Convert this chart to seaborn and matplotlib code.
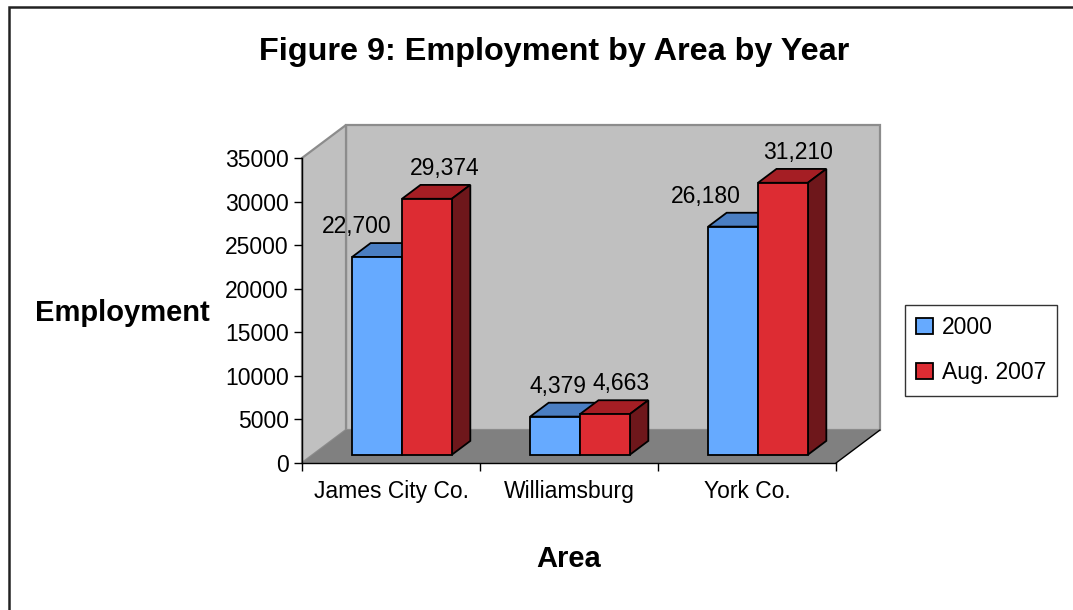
import matplotlib
matplotlib.use("Agg")
import matplotlib.pyplot as plt
from matplotlib.patches import Polygon, Rectangle
import numpy as np
import pandas as pd
import seaborn as sns

# Employment by area, two survey points
areas = ["James City Co.", "Williamsburg", "York Co."]
series = ["2000", "Aug. 2007"]
emp_2000 = [22700, 4379, 26180]
emp_2007 = [29374, 4663, 31210]
y_ticks = [0, 5000, 10000, 15000, 20000, 25000, 30000, 35000]

df = pd.DataFrame({
    "Area": areas * 2,
    "Series": [series[0]] * 3 + [series[1]] * 3,
    "Employment": emp_2000 + emp_2007,
})

sns.set_theme(style="white")
plt.rcParams["font.family"] = ["Liberation Sans", "DejaVu Sans"]
plt.rcParams.update({
    "text.color": "black",
    "axes.labelcolor": "black",
    "xtick.color": "black",
    "ytick.color": "black",
})

W, H = 1073, 610
fig = plt.figure(figsize=(W / 100, H / 100), dpi=100)
fig.patch.set_facecolor("white")

# plot area in pixel terms (front plane of the 3D box)
px_left, px_right, px_bottom, px_top = 302, 836, 463, 158
ax = fig.add_axes([px_left / W, 1 - px_bottom / H,
                   (px_right - px_left) / W, (px_bottom - px_top) / H])
ax.set_facecolor("none")

YMAX = 35000
ax.set_xlim(-0.5, 2.5)
ax.set_ylim(0, YMAX)

# depth of the box, expressed in data units
depth_px_x, depth_px_y = 44, 33
DX = depth_px_x / (px_right - px_left) * 3
DY = depth_px_y / (px_bottom - px_top) * YMAX
F0 = 0.25   # bar front position as fraction of depth
BD = 0.42   # bar depth as fraction of depth

wall_fill = "#C0C0C0"
wall_edge = "#8C8C8C"
floor_fill = "#808080"

# back wall
ax.add_patch(Polygon([(-0.5 + DX, DY), (2.5 + DX, DY), (2.5 + DX, YMAX + DY),
                      (-0.5 + DX, YMAX + DY)], closed=True, facecolor=wall_fill,
                     edgecolor=wall_edge, lw=1.6, zorder=0, clip_on=False))
# side wall
ax.add_patch(Polygon([(-0.5, 0), (-0.5 + DX, DY), (-0.5 + DX, YMAX + DY),
                      (-0.5, YMAX)], closed=True, facecolor=wall_fill,
                     edgecolor=wall_edge, lw=1.6, zorder=0.5, clip_on=False))
# floor
ax.add_patch(Polygon([(-0.5, 0), (2.5, 0), (2.5 + DX, DY), (-0.5 + DX, DY)],
                     closed=True, facecolor=floor_fill, edgecolor="none",
                     zorder=0.6, clip_on=False))
ax.plot([2.5, 2.5 + DX], [0, DY], color="black", lw=1.0, zorder=0.7,
        clip_on=False)

front_colors = {"2000": "#66AAFF", "Aug. 2007": "#DD2C33"}
top_colors = {"2000": "#4A7EC2", "Aug. 2007": "#A51E24"}
side_colors = {"2000": "#3C63A0", "Aug. 2007": "#6E171B"}

sns.barplot(data=df, x="Area", y="Employment", hue="Series", order=areas,
            hue_order=series, palette=front_colors, saturation=1, width=0.56,
            edgecolor="black", linewidth=1.3, ax=ax, zorder=3)

# horizontal label nudges in pixels (per area, per series)
label_nudge = [(-30, 9), (-6, 7), (-37, 6)]

for s_idx, (cont, s) in enumerate(zip(ax.containers, series)):
    for a_idx, rect in enumerate(cont):
        x0, w, h = rect.get_x(), rect.get_width(), rect.get_height()
        xs, ys = x0 + F0 * DX, F0 * DY
        rect.set_x(xs)
        rect.set_y(ys)
        rect.set_clip_on(False)
        bx, by = BD * DX, BD * DY
        top = Polygon([(xs, ys + h), (xs + w, ys + h), (xs + w + bx, ys + h + by),
                       (xs + bx, ys + h + by)], closed=True,
                      facecolor=top_colors[s], edgecolor="black", lw=1.3,
                      zorder=2, clip_on=False)
        side = Polygon([(xs + w, ys), (xs + w + bx, ys + by),
                        (xs + w + bx, ys + h + by), (xs + w, ys + h)], closed=True,
                       facecolor=side_colors[s], edgecolor="black", lw=1.3,
                       zorder=2, clip_on=False)
        ax.add_patch(top)
        ax.add_patch(side)
        ax.annotate(f"{int(round(h)):,}", (xs + w / 2 + bx / 2, ys + h + by),
                    xytext=(label_nudge[a_idx][s_idx] * 0.72, 12),
                    textcoords="offset points", ha="center", va="center",
                    fontsize=16.5, color="black", zorder=5)

# axes styling
for side_name in ["top", "right"]:
    ax.spines[side_name].set_visible(False)
for side_name in ["left", "bottom"]:
    ax.spines[side_name].set_color("black")
    ax.spines[side_name].set_linewidth(1.0)
    ax.spines[side_name].set_zorder(1)

ax.set_yticks(y_ticks)
ax.set_yticklabels([str(t) for t in y_ticks])
ax.set_xticks([-0.5, 0.5, 1.5, 2.5])
ax.set_xticklabels([])
ax.set_xticks([0, 1, 2], minor=True)
ax.set_xticklabels(areas, minor=True)
ax.tick_params(axis="y", which="major", direction="out", length=5.5, width=1,
               color="black", labelsize=16.5, pad=4, left=True,
               labelcolor="black")
ax.tick_params(axis="x", which="major", direction="out", length=5.5, width=1,
               color="black", bottom=True)
ax.tick_params(axis="x", which="minor", length=0, labelsize=16.5, pad=12,
               labelcolor="black")

ax.set_xlabel("Area", fontsize=21, fontweight="bold", color="black")
ax.xaxis.set_label_coords(0.5, (px_bottom - 545) / (px_bottom - px_top))
ax.set_ylabel("Employment", fontsize=21, fontweight="bold", rotation=0,
              ha="center", va="center", color="black")
ax.yaxis.set_label_coords((122 - px_left) / (px_right - px_left),
                          (px_bottom - 313) / (px_bottom - px_top))

fig.text(554 / W, 1 - 52 / H, "Figure 9: Employment by Area by Year",
         ha="center", va="center", fontsize=23.3, fontweight="bold",
         color="black")

# legend
handles, labels = ax.get_legend_handles_labels()
leg = ax.legend(handles, labels, loc="upper left",
                bbox_to_anchor=(905 / W, 1 - 305 / H),
                bbox_transform=fig.transFigure, fontsize=16.5, frameon=True,
                fancybox=False, edgecolor="black", borderpad=0.5,
                handlelength=0.7, handleheight=0.7, handletextpad=0.4,
                labelspacing=0.95, borderaxespad=0)
leg.get_frame().set_linewidth(1.0)
for t in leg.get_texts():
    t.set_color("black")
for hnd in leg.legend_handles:
    hnd.set_edgecolor("black")
    hnd.set_linewidth(1.3)

# chart border
fig.add_artist(Rectangle((8.5 / W, -0.1), 1.2, 1 - 7 / H + 0.1,
                         transform=fig.transFigure, fill=False,
                         edgecolor="#222222", lw=1.8))

fig.savefig("out.png", dpi=100)
